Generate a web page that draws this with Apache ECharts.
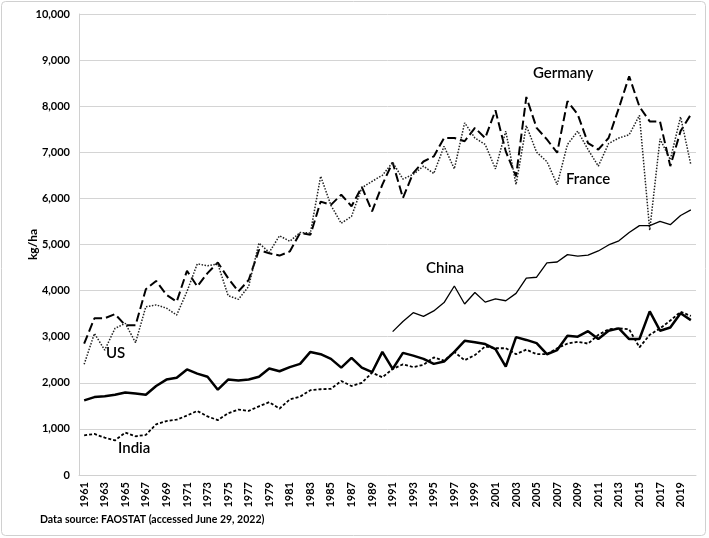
<!DOCTYPE html>
<html>
<head>
<meta charset="utf-8">
<script src="https://cdn.jsdelivr.net/npm/echarts@6/dist/echarts.min.js"></script>
<style>
  html, body { margin: 0; padding: 0; background: #fff; }
  #chart { width: 709px; height: 538px; }
</style>
</head>
<body>
<div id="chart"></div>
<script>
const years = []
for (let y = 1961; y <= 2020; y++) years.push(String(y))

const germany = [2850, 3400, 3400, 3490, 3250, 3250, 4030, 4210, 3910, 3760,
  4430, 4090, 4380, 4610, 4270, 3980, 4230, 4880, 4810, 4760,
  4850, 5250, 5210, 5930, 5860, 6080, 5830, 6250, 5720, 6300,
  6780, 6010, 6550, 6800, 6910, 7310, 7310, 7240, 7530, 7310,
  7910, 7020, 6480, 8200, 7530, 7280, 6990, 8110, 7820, 7200,
  7060, 7310, 7960, 8650, 7990, 7670, 7670, 6700, 7460, 7820]

const france = [2400, 3070, 2710, 3180, 3290, 2870, 3650, 3690, 3620, 3470,
  3980, 4580, 4540, 4580, 3890, 3810, 4090, 5030, 4830, 5190,
  5070, 5260, 5250, 6480, 5850, 5460, 5610, 6230, 6370, 6500,
  6780, 6420, 6520, 6700, 6540, 7130, 6640, 7640, 7310, 7170,
  6640, 7460, 6300, 7580, 7000, 6800, 6300, 7170, 7460, 7060,
  6700, 7190, 7310, 7380, 7800, 5310, 7290, 6840, 7770, 6730]

// China series starts in 1991
const china = [null, null, null, null, null, null, null, null, null, null,
  null, null, null, null, null, null, null, null, null, null,
  null, null, null, null, null, null, null, null, null, null,
  3110, 3330, 3520, 3440, 3560, 3740, 4100, 3710, 3960, 3750,
  3820, 3780, 3940, 4270, 4290, 4600, 4620, 4780, 4750, 4770,
  4860, 4990, 5080, 5260, 5410, 5410, 5500, 5430, 5630, 5750]

const us = [1620, 1690, 1710, 1740, 1790, 1770, 1740, 1930, 2070, 2110,
  2290, 2200, 2130, 1850, 2070, 2050, 2070, 2130, 2310, 2250,
  2340, 2410, 2670, 2620, 2520, 2330, 2540, 2330, 2230, 2670,
  2300, 2650, 2590, 2520, 2410, 2460, 2670, 2910, 2880, 2840,
  2730, 2350, 2990, 2930, 2860, 2620, 2710, 3020, 3000, 3120,
  2950, 3130, 3180, 2950, 2950, 3550, 3130, 3200, 3510, 3360]

const india = [860, 890, 810, 750, 920, 840, 870, 1100, 1170, 1200,
  1290, 1390, 1270, 1190, 1340, 1420, 1390, 1490, 1580, 1440,
  1640, 1700, 1840, 1860, 1870, 2040, 1930, 2000, 2220, 2120,
  2300, 2400, 2340, 2390, 2550, 2480, 2670, 2490, 2600, 2790,
  2750, 2750, 2620, 2720, 2620, 2620, 2750, 2850, 2890, 2850,
  3040, 3160, 3180, 3160, 2770, 3040, 3180, 3350, 3540, 3450]

const yTicks = [0, 1000, 2000, 3000, 4000, 5000, 6000, 7000, 8000, 9000, 10000]

const font = 'Lato, "Open Sans", sans-serif'
const chart = echarts.init(document.getElementById('chart'))

const option = {
  animation: false,
  backgroundColor: '#fff',
  grid: {
    left: 79,
    right: 13,
    top: 14,
    bottom: 63
  },
  xAxis: {
    type: 'category',
    data: years,
    boundaryGap: true,
    axisLine: { lineStyle: { color: '#d0d0d0', width: 1 } },
    axisTick: { show: false },
    axisLabel: {
      interval: 1,
      rotate: 90,
      margin: 7,
      color: '#000',
      fontFamily: font,
      fontWeight: 'bold',
      fontSize: 11
    }
  },
  yAxis: {
    type: 'value',
    min: yTicks[0],
    max: yTicks[yTicks.length - 1],
    interval: 1000,
    name: 'kg/ha',
    nameLocation: 'middle',
    nameGap: 40,
    nameMoveOverlap: false,
    nameTextStyle: { color: '#000', fontFamily: font, fontWeight: 'bold', fontSize: 12 },
    axisLine: { show: true, lineStyle: { color: '#d0d0d0', width: 1 } },
    axisTick: { show: false },
    splitLine: { lineStyle: { color: '#d4d4d4', width: 1 } },
    axisLabel: {
      margin: 9,
      color: '#000',
      fontFamily: font,
      fontWeight: 'bold',
      fontSize: 11,
      formatter: v => v.toLocaleString('en-US')
    }
  },
  series: [
    {
      name: 'Germany',
      type: 'line',
      data: germany,
      symbol: 'none',
      lineStyle: { color: '#000', width: 2, type: [9, 4] }
    },
    {
      name: 'France',
      type: 'line',
      data: france,
      symbol: 'none',
      lineStyle: { color: '#222', width: 1.5, type: [1.5, 1.5] }
    },
    {
      name: 'China',
      type: 'line',
      data: china,
      symbol: 'none',
      lineStyle: { color: '#000', width: 1.3 }
    },
    {
      name: 'US',
      type: 'line',
      data: us,
      symbol: 'none',
      lineStyle: { color: '#000', width: 2.5 }
    },
    {
      name: 'India',
      type: 'line',
      data: india,
      symbol: 'none',
      lineStyle: { color: '#000', width: 1.8, type: [3, 2] }
    }
  ],
  graphic: [
    {
      type: 'rect',
      shape: { x: 1.5, y: 1.5, width: 704, height: 534, r: 4 },
      style: { fill: 'none', stroke: '#d0d0d0', lineWidth: 1 },
      silent: true
    },
    { type: 'text', left: 533, top: 66, style: { text: 'Germany', font: '600 15px ' + font, fill: '#000' } },
    { type: 'text', left: 566, top: 172, style: { text: 'France', font: '600 15px ' + font, fill: '#000' } },
    { type: 'text', left: 426, top: 261, style: { text: 'China', font: '600 15px ' + font, fill: '#000' } },
    { type: 'text', left: 106, top: 346, style: { text: 'US', font: '600 15px ' + font, fill: '#000' } },
    { type: 'text', left: 118, top: 441, style: { text: 'India', font: '600 15px ' + font, fill: '#000' } },
    { type: 'text', left: 40, top: 514, style: { text: 'Data source: FAOSTAT (accessed June 29, 2022)', font: 'bold 10.5px ' + font, fill: '#000' } }
  ]
}
chart.setOption(option)
</script>
</body>
</html>
